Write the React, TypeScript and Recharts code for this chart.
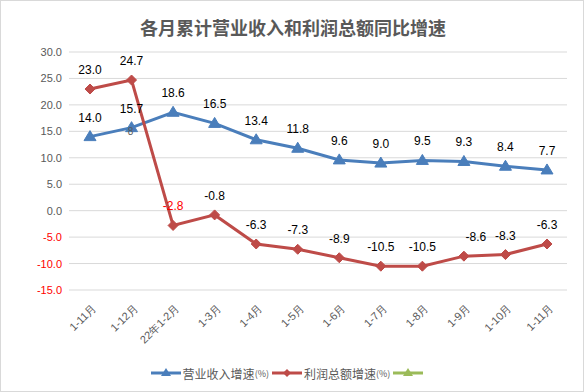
import { LineChart, Line, XAxis, YAxis, CartesianGrid, Legend } from 'recharts';

const months = ['1-11月', '1-12月', '22年1-2月', '1-3月', '1-4月', '1-5月', '1-6月', '1-7月', '1-8月', '1-9月', '1-10月', '1-11月'];
const revenueGrowth = [14.0, 15.7, 18.6, 16.5, 13.4, 11.8, 9.6, 9.0, 9.5, 9.3, 8.4, 7.7];
const profitGrowth = [23.0, 24.7, -2.8, -0.8, -6.3, -7.3, -8.9, -10.5, -10.5, -8.6, -8.3, -6.3];
const yTicks = [-15, -10, -5, 0, 5, 10, 15, 20, 25, 30];

const data = months.map((m, i) => ({ month: m, revenue: revenueGrowth[i], profit: profitGrowth[i], extra: null }));

const BLUE = '#4a7ebb';
const RED = '#be4b48';
const GREEN = '#9bbb59';
const GRAY = '#595959';
const FONT = '"Liberation Sans", Arial, sans-serif';

const Triangle = (props: any) => {
  const { cx, cy } = props;
  if (cx == null || cy == null) return null;
  return <path d={`M${cx},${cy - 6} L${cx + 6},${cy + 4} L${cx - 6},${cy + 4} Z`} fill={BLUE} stroke={BLUE} />;
};

const Diamond = (props: any) => {
  const { cx, cy } = props;
  if (cx == null || cy == null) return null;
  return <path d={`M${cx},${cy - 5} L${cx + 5},${cy} L${cx},${cy + 5} L${cx - 5},${cy} Z`} fill={RED} stroke={RED} />;
};

const makeLabel = (series: 'revenue' | 'profit') => (props: any) => {
  const { x, y, value, index } = props;
  if (value == null) return null;
  const red = series === 'profit' && index === 2;
  const dx = series === 'profit' && index === 9 ? 12 : 0;
  return (
    <g>
      <text x={x + dx} y={y - 19} textAnchor="middle" dominantBaseline="central" fontSize={12} fontFamily={FONT} fill={red ? '#ff0000' : '#000'}>
        {value.toFixed(1)}
      </text>
      {series === 'revenue' && index === 1 && (
        <text x={x - 1} y={y + 4} textAnchor="middle" dominantBaseline="central" fontSize={10} fontFamily={FONT} fill={GRAY}>
          8
        </text>
      )}
    </g>
  );
};

const YTick = (props: any) => {
  const { x, y, payload } = props;
  const v = payload.value as number;
  return (
    <text x={x} y={y} textAnchor="end" dominantBaseline="central" fontSize={11} fontFamily={FONT} fill={v < 0 ? '#ff0000' : GRAY}>
      {v.toFixed(1)}
    </text>
  );
};

const XTick = (props: any) => {
  const { x, y, payload } = props;
  return (
    <text x={x + 4} y={y + 8} transform={`rotate(-45, ${x + 4}, ${y + 8})`} textAnchor="end" dominantBaseline="central" fontSize={11} fontFamily={FONT} fill={GRAY}>
      {payload.value}
    </text>
  );
};

const LegendContent = () => {
  const item = (color: string, marker: 'tri' | 'dia', label: string, pct: boolean) => (
    <span style={{ display: 'inline-flex', alignItems: 'center', marginRight: 3 }}>
      <svg width={30} height={12}>
        <line x1={0} y1={6} x2={30} y2={6} stroke={color} strokeWidth={3} />
        {marker === 'tri' ? (
          <path d="M15,1 L20,9 L10,9 Z" fill={color} />
        ) : (
          <path d="M15,2 L19,6 L15,10 L11,6 Z" fill={color} />
        )}
      </svg>
      {label && <span style={{ fontSize: 12, color: GRAY, marginLeft: 2 }}>{label}</span>}
      {pct && <span style={{ fontSize: 9, color: GRAY }}>(%)</span>}
    </span>
  );
  return (
    <div style={{ display: 'flex', justifyContent: 'center', alignItems: 'center', fontFamily: '"Noto Sans CJK SC", sans-serif', height: 20, paddingLeft: 10, paddingTop: 3 }}>
      {item(BLUE, 'tri', '营业收入增速', true)}
      {item(RED, 'dia', '利润总额增速', true)}
      {item(GREEN, 'tri', '', false)}
    </div>
  );
};

export default function App() {
  return (
    <div style={{ position: 'absolute', left: 0, top: 0, width: 584, height: 392, boxSizing: 'border-box', border: '1px solid #d9d9d9', background: '#fff' }}>
      <div style={{ position: 'absolute', left: 0, top: 13, width: 584, textAlign: 'center', fontFamily: '"Noto Sans CJK SC", sans-serif', fontSize: 18, fontWeight: 700, color: GRAY }}>
        各月累计营业收入和利润总额同比增速
      </div>
      <div style={{ position: 'absolute', left: -1, top: -1 }}>
        <LineChart width={584} height={392} data={data} margin={{ top: 52, right: 17, left: 0, bottom: 9 }}>
          <CartesianGrid vertical={false} stroke="#d9d9d9" />
          <XAxis dataKey="month" axisLine={false} tickLine={false} height={70} interval={0} tick={<XTick />} padding={{ left: 21, right: 20 }} />
          <YAxis domain={[-15, 30]} ticks={yTicks} width={69} axisLine={false} tickLine={false} tick={<YTick />} tickMargin={1} />
          <Legend verticalAlign="bottom" content={<LegendContent />} />
          <Line dataKey="revenue" name="营业收入增速(%)" stroke={BLUE} strokeWidth={3} dot={<Triangle />} label={makeLabel('revenue')} isAnimationActive={false} />
          <Line dataKey="profit" name="利润总额增速(%)" stroke={RED} strokeWidth={3} dot={<Diamond />} label={makeLabel('profit')} isAnimationActive={false} />
          <Line dataKey="extra" name=" " stroke={GREEN} strokeWidth={3} dot={false} isAnimationActive={false} />
        </LineChart>
      </div>
    </div>
  );
}
